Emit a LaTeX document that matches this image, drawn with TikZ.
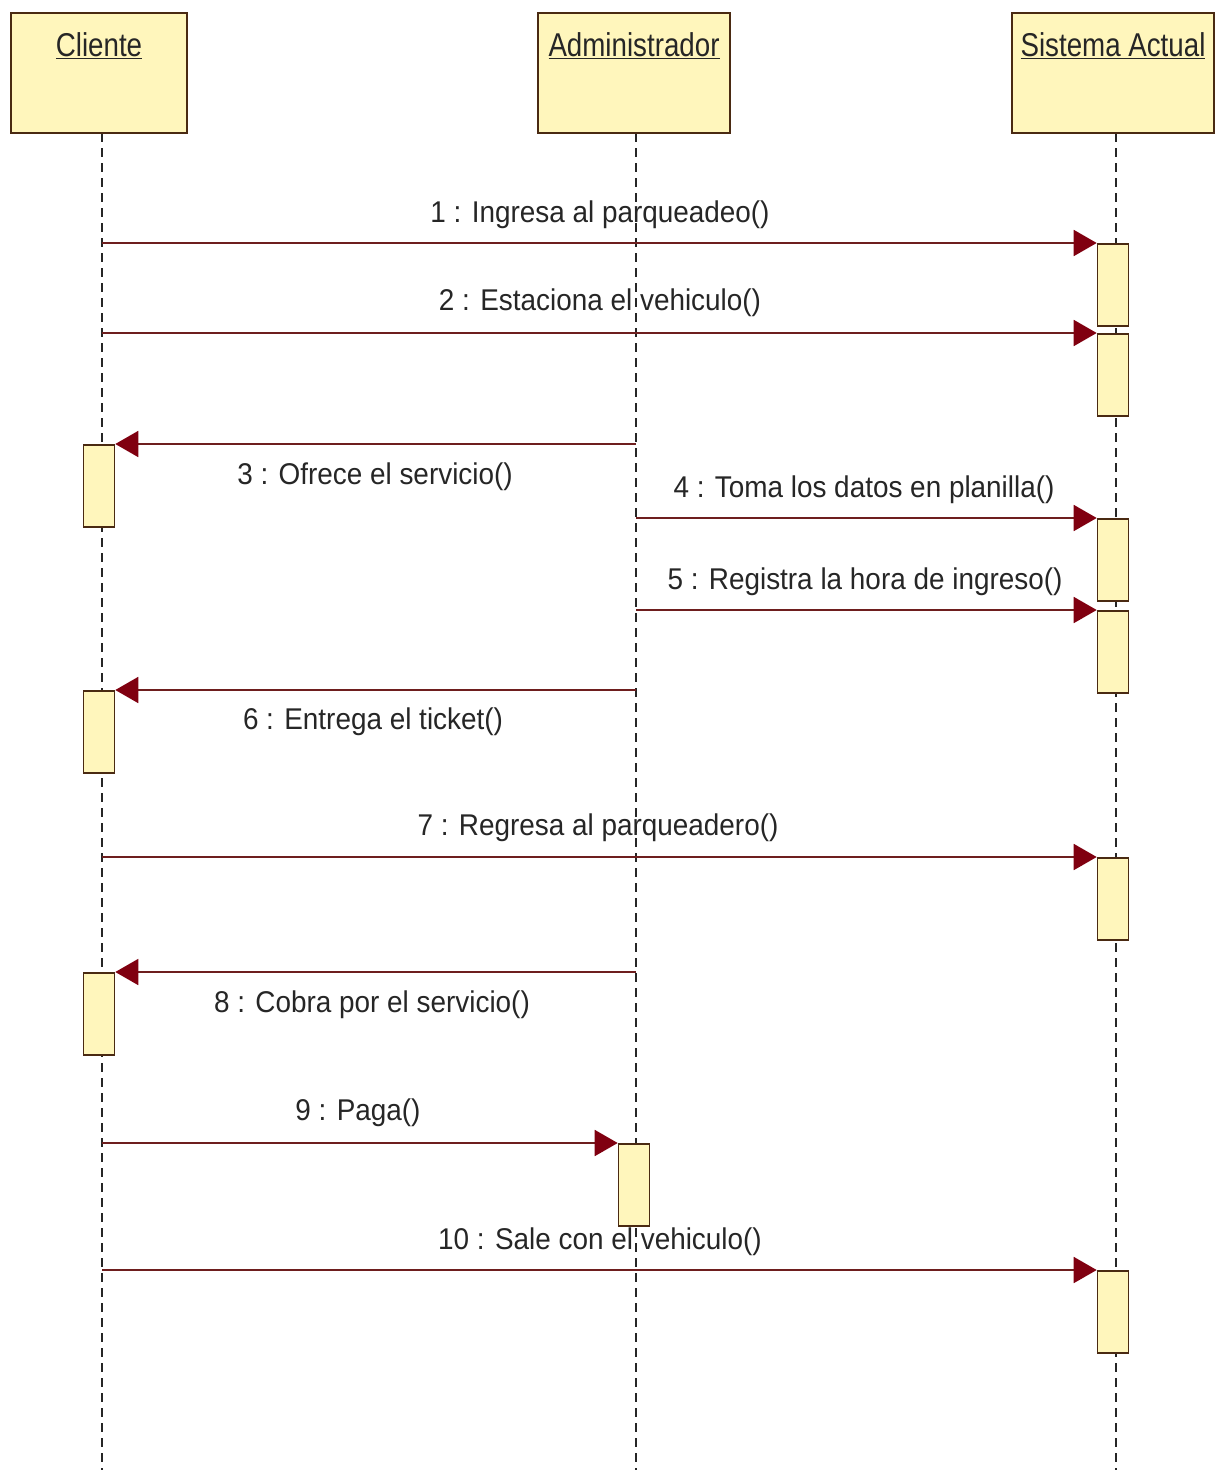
\documentclass[tikz,border=0pt]{standalone}
\usepackage{fontspec}
\setmainfont{Liberation Sans}
\newfontfamily\hdrfont[FakeStretch=0.84]{Liberation Sans}
\newfontfamily\msgfont[FakeStretch=0.93]{Liberation Sans}
\usetikzlibrary{arrows.meta}
\definecolor{boxfill}{HTML}{FFF6BC}
\definecolor{boxline}{HTML}{4A2A12}
\definecolor{msgline}{HTML}{6E1E1E}
\definecolor{msghead}{HTML}{800010}
\definecolor{txt}{HTML}{262626}
\begin{document}
\begin{tikzpicture}[x=1pt,y=-1pt,
  objbox/.style={draw=boxline, line width=2pt, fill=boxfill, minimum height=120pt, inner sep=0pt},
  objname/.style={text=black!85, font=\hdrfont\fontsize{33}{38}\selectfont, inner sep=0pt},
  actbox/.style={draw=boxline, line width=1.6pt, fill=boxfill, minimum width=31pt, minimum height=82pt, inner sep=0pt, anchor=north},
  lifeline/.style={draw=black!85, line width=2pt, dash pattern=on 9pt off 6pt},
  msg/.style={draw=msgline, line width=1.8pt, -{Triangle[length=23pt,width=26pt,fill=msghead,color=msghead]}},
  lbl/.style={text=txt, font=\msgfont\fontsize{30}{34}\selectfont, inner sep=0pt}
]
\useasboundingbox[fill=white] (0,0) rectangle (1224,1470);

% lifelines
\coordinate (cTop) at (102,133);
\coordinate (cBot) at (102,1470);
\coordinate (aTop) at (636,133);
\coordinate (aBot) at (636,1470);
\coordinate (sTop) at (1116,133);
\coordinate (sBot) at (1116,1470);
\draw[lifeline] (cTop) -- (cBot);
\draw[lifeline] (aTop) -- (aBot);
\draw[lifeline] (sTop) -- (sBot);

% objects
\node[objbox, minimum width=176pt] (cliente) at (99,73) {};
\node[objbox, minimum width=192pt] (admin) at (634,73) {};
\node[objbox, minimum width=202pt] (sistema) at (1113,73) {};
\node[objname] (clienteT) at (99,46) {\underline{Cliente}};
\node[objname] (adminT) at (634,46) {\underline{Administrador}};
\node[objname] (sistemaT) at (1113,46) {\underline{Sistema Actual}};

% activation boxes
\node[actbox] (s1) at (1113,243) {};
\node[actbox] (s2) at (1113,333) {};
\node[actbox] (c3) at (99,444) {};
\node[actbox] (s4) at (1113,518) {};
\node[actbox] (s5) at (1113,610) {};
\node[actbox] (c6) at (99,690) {};
\node[actbox] (s7) at (1113,857) {};
\node[actbox] (c8) at (99,972) {};
\node[actbox] (a9) at (634,1143) {};
\node[actbox] (s10) at (1113,1270) {};

% message origins
\coordinate (m1) at (102,243);
\coordinate (m2) at (102,333);
\coordinate (m3) at (636,444);
\coordinate (m4) at (636,518);
\coordinate (m5) at (636,610);
\coordinate (m6) at (636,690);
\coordinate (m7) at (102,857);
\coordinate (m8) at (636,972);
\coordinate (m9) at (102,1143);
\coordinate (m10) at (102,1270);

\draw[msg] (m1) -- (s1.north west);
\draw[msg] (m2) -- (s2.north west);
\draw[msg] (m3) -- (c3.north east);
\draw[msg] (m4) -- (s4.north west);
\draw[msg] (m5) -- (s5.north west);
\draw[msg] (m6) -- (c6.north east);
\draw[msg] (m7) -- (s7.north west);
\draw[msg] (m8) -- (c8.north east);
\draw[msg] (m9) -- (a9.north west);
\draw[msg] (m10) -- (s10.north west);

% labels
\node[lbl] (l1) at (600,215) {1 : Ingresa al parqueadeo()};
\node[lbl] (l2) at (600,303) {2 : Estaciona el vehiculo()};
\node[lbl] (l3) at (375,477) {3 : Ofrece el servicio()};
\node[lbl] (l4) at (864,490) {4 : Toma los datos en planilla()};
\node[lbl] (l5) at (865,582) {5 : Registra la hora de ingreso()};
\node[lbl] (l6) at (373,722) {6 : Entrega el ticket()};
\node[lbl] (l7) at (598,828) {7 : Regresa al parqueadero()};
\node[lbl] (l8) at (372,1005) {8 : Cobra por el servicio()};
\node[lbl] (l9) at (358,1113) {9 : Paga()};
\node[lbl] (l10) at (600,1242) {10 : Sale con el vehiculo()};
\end{tikzpicture}
\end{document}
